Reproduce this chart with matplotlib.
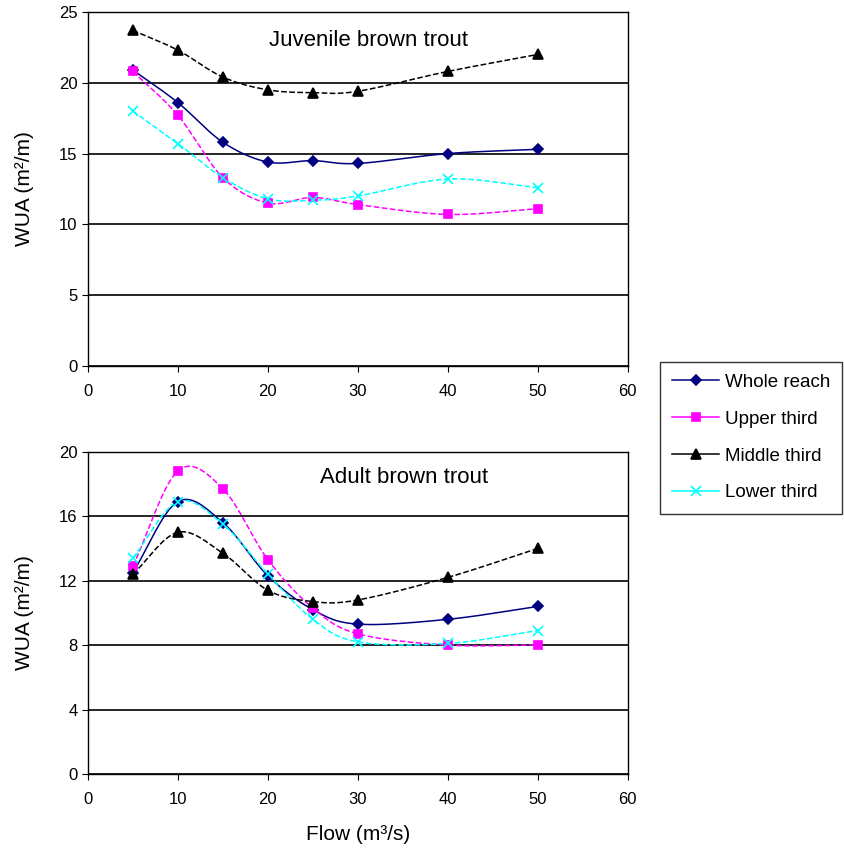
import numpy as np
import matplotlib.pyplot as plt

plt.rcParams['font.family'] = ['Liberation Sans', 'DejaVu Sans']

flow = [5, 10, 15, 20, 25, 30, 40, 50]

# Juvenile brown trout WUA (m2/m)
juv_whole = [20.9, 18.6, 15.8, 14.4, 14.5, 14.3, 15.0, 15.3]
juv_upper = [20.8, 17.7, 13.3, 11.5, 11.9, 11.4, 10.7, 11.1]
juv_middle = [23.7, 22.3, 20.4, 19.5, 19.3, 19.4, 20.8, 22.0]
juv_lower = [18.0, 15.7, 13.3, 11.8, 11.7, 12.0, 13.2, 12.6]

# Adult brown trout WUA (m2/m)
ad_whole = [12.5, 16.9, 15.6, 12.3, 10.2, 9.3, 9.6, 10.4]
ad_upper = [12.9, 18.8, 17.7, 13.3, 10.3, 8.7, 8.0, 8.0]
ad_middle = [12.4, 15.0, 13.7, 11.4, 10.7, 10.8, 12.2, 14.0]
ad_lower = [13.4, 16.9, 15.5, 12.4, 9.6, 8.2, 8.1, 8.9]

series_names = ['Whole reach', 'Upper third', 'Middle third', 'Lower third']


def smooth(x, y, n=30):
    # Catmull-Rom style curve through the points (like Excel "smoothed line")
    x = np.asarray(x, float)
    y = np.asarray(y, float)
    px = np.concatenate([[2 * x[0] - x[1]], x, [2 * x[-1] - x[-2]]])
    py = np.concatenate([[2 * y[0] - y[1]], y, [2 * y[-1] - y[-2]]])
    xs, ys = [], []
    t = np.linspace(0, 1, n)
    for i in range(1, len(px) - 2):
        for p, out in ((px, xs), (py, ys)):
            p0, p1, p2, p3 = p[i - 1], p[i], p[i + 1], p[i + 2]
            out.extend(0.5 * ((2 * p1) + (-p0 + p2) * t
                              + (2 * p0 - 5 * p1 + 4 * p2 - p3) * t ** 2
                              + (-p0 + 3 * p1 - 3 * p2 + p3) * t ** 3))
    return xs, ys


styles = [
    dict(color='#000080', ls='-', marker='D', ms=5.5),
    dict(color='#ff00ff', ls='--', marker='s', ms=6),
    dict(color='black', ls='--', marker='^', ms=6.5),
    dict(color='#00ffff', ls='--', marker='x', ms=7),
]

fig = plt.figure(figsize=(8.45, 8.55), dpi=100)
ax1 = fig.add_axes([0.104, 0.572, 0.639, 0.414])
ax2 = fig.add_axes([0.104, 0.0947, 0.639, 0.377])


def draw(ax, data, title, yticks, tx):
    handles = []
    for vals, st, name in zip(data, styles, series_names):
        sx, sy = smooth(flow, vals)
        ax.plot(sx, sy, color=st['color'], ls=st['ls'], lw=1.1, zorder=3)
        ax.plot(flow, vals, ls='none', marker=st['marker'], ms=st['ms'],
                color=st['color'], mec=st['color'], mew=1.2, zorder=4)
        h, = ax.plot([], [], color=st['color'], ls='-', lw=1.1,
                     marker=st['marker'], ms=st['ms'], mew=1.2, label=name)
        handles.append(h)
    ax.set_xlim(0, 60)
    ax.set_ylim(yticks[0], yticks[-1])
    ax.set_xticks(range(0, 61, 10))
    ax.set_yticks(yticks)
    ax.grid(axis='y', color='black', lw=1.2)
    ax.set_axisbelow(True)
    ax.tick_params(direction='out', length=4, labelsize=12, color='black')
    ax.tick_params(axis='x', pad=9)
    for s in ax.spines.values():
        s.set_color('black')
        s.set_linewidth(1.0)
    ax.set_ylabel('WUA (m²/m)', fontsize=15, labelpad=18)
    ax.text(tx, 0.92, title, transform=ax.transAxes, fontsize=16,
            ha='center', va='center')
    return handles


handles = draw(ax1, [juv_whole, juv_upper, juv_middle, juv_lower],
               'Juvenile brown trout', list(range(0, 26, 5)), 0.52)
draw(ax2, [ad_whole, ad_upper, ad_middle, ad_lower],
     'Adult brown trout', list(range(0, 21, 4)), 0.585)
ax2.set_xlabel('Flow (m³/s)', fontsize=15, labelpad=13)

fig.legend(handles=handles, loc='upper left', bbox_to_anchor=(0.781, 0.577),
           frameon=True, fancybox=False, edgecolor='black', fontsize=13.5,
           handlelength=2.5, labelspacing=1.05, borderpad=0.65,
           handletextpad=0.3, borderaxespad=0)

fig.savefig('out.png', dpi=100)
